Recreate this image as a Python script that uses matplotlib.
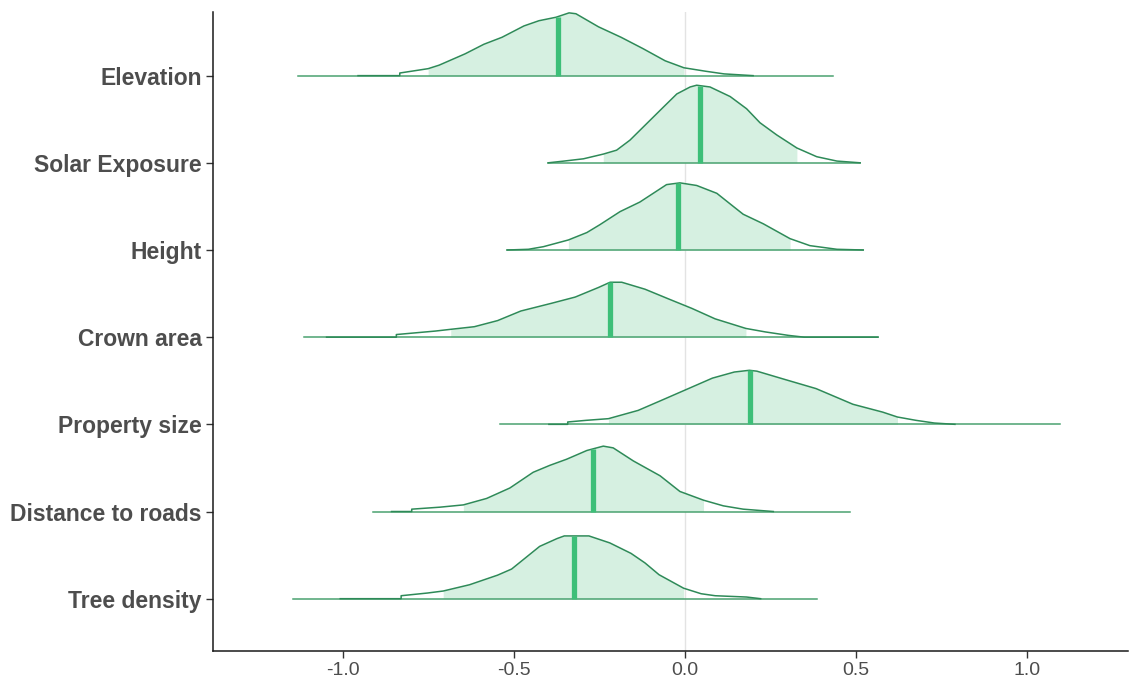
import numpy as np
import matplotlib.pyplot as plt

plt.rcParams['font.family'] = ['Liberation Sans', 'DejaVu Sans']

# назви параметрів знизу вгору
labels = ["Tree density", "Distance to roads", "Property size", "Crown area",
          "Height", "Solar Exposure", "Elevation"]

# повний діапазон тонкої лінії
line_lo = [-1.146, -0.911, -0.540, -1.114, -0.520, -0.400, -1.132]
line_hi = [0.386, 0.482, 1.096, 0.564, 0.521, 0.512, 0.433]

# межі заливки (внутрішній інтервал)
fill_lo = [-0.707, -0.648, -0.224, -0.685, -0.341, -0.239, -0.751]
fill_hi = [-0.004, 0.054, 0.621, 0.178, 0.307, 0.327, -0.003]

medians = [-0.325, -0.268, 0.191, -0.219, -0.021, 0.044, -0.371]

# криві щільності (x, висота у частках рядка)
tree_x = [-1.008, -0.830, -0.830, -0.753, -0.707, -0.630, -0.548, -0.507, -0.466, -0.425,
          -0.374, -0.353, -0.281, -0.220, -0.158, -0.117, -0.076, -0.004, 0.047, 0.088,
          0.180, 0.221]
tree_h = [0.0, 0.0, 0.034, 0.065, 0.088, 0.16, 0.27, 0.34, 0.47, 0.60,
          0.69, 0.72, 0.72, 0.64, 0.52, 0.41, 0.275, 0.12, 0.057, 0.034,
          0.019, 0.0]

dist_x = [-0.858, -0.799, -0.799, -0.716, -0.648, -0.580, -0.512, -0.444, -0.395, -0.346,
          -0.287, -0.239, -0.210, -0.151, -0.073, -0.015, 0.054, 0.112, 0.170, 0.258]
dist_h = [0.0, 0.0, 0.027, 0.05, 0.076, 0.15, 0.27, 0.45, 0.53, 0.60,
          0.70, 0.75, 0.73, 0.58, 0.41, 0.23, 0.13, 0.065, 0.027, 0.0]

prop_x = [-0.398, -0.343, -0.343, -0.289, -0.224, -0.137, -0.072, 0.004, 0.080, 0.144,
          0.188, 0.210, 0.296, 0.383, 0.491, 0.578, 0.621, 0.675, 0.729, 0.789]
prop_h = [0.0, 0.0, 0.027, 0.046, 0.065, 0.16, 0.27, 0.40, 0.53, 0.60,
          0.62, 0.61, 0.51, 0.41, 0.23, 0.14, 0.084, 0.046, 0.015, 0.0]

crown_x = [-1.048, -0.844, -0.844, -0.730, -0.685, -0.616, -0.548, -0.480, -0.389, -0.321,
           -0.253, -0.219, -0.185, -0.117, -0.049, 0.020, 0.088, 0.178, 0.235, 0.303,
           0.348, 0.564]
crown_h = [0.0, 0.0, 0.03, 0.07, 0.09, 0.12, 0.19, 0.30, 0.39, 0.46,
           0.57, 0.63, 0.63, 0.55, 0.44, 0.33, 0.21, 0.10, 0.06, 0.02,
           0.0, 0.0]

height_x = [-0.520, -0.458, -0.414, -0.341, -0.287, -0.249, -0.190, -0.132, -0.093, -0.054,
            -0.015, 0.034, 0.093, 0.141, 0.170, 0.229, 0.307, 0.365, 0.444, 0.521]
height_h = [0.0, 0.008, 0.038, 0.115, 0.20, 0.29, 0.44, 0.55, 0.65, 0.75,
            0.77, 0.74, 0.65, 0.50, 0.41, 0.30, 0.13, 0.05, 0.008, 0.0]

solar_x = [-0.400, -0.356, -0.297, -0.239, -0.200, -0.161, -0.112, -0.063, -0.024, 0.015,
           0.034, 0.073, 0.132, 0.180, 0.219, 0.268, 0.327, 0.385, 0.444, 0.512]
solar_h = [0.0, 0.019, 0.046, 0.10, 0.145, 0.26, 0.45, 0.64, 0.79, 0.87,
           0.89, 0.87, 0.76, 0.62, 0.46, 0.32, 0.17, 0.07, 0.02, 0.0]

elev_x = [-0.956, -0.834, -0.834, -0.751, -0.719, -0.643, -0.588, -0.535, -0.471, -0.427,
          -0.377, -0.339, -0.319, -0.253, -0.187, -0.123, -0.058, -0.003, 0.061, 0.114,
          0.199]
elev_h = [0.0, 0.0, 0.03, 0.08, 0.12, 0.25, 0.36, 0.44, 0.57, 0.63,
          0.67, 0.72, 0.71, 0.56, 0.44, 0.31, 0.17, 0.09, 0.05, 0.02,
          0.0]

curves_x = [tree_x, dist_x, prop_x, crown_x, height_x, solar_x, elev_x]
curves_h = [tree_h, dist_h, prop_h, crown_h, height_h, solar_h, elev_h]

x_ticks = [-1.0, -0.5, 0.0, 0.5, 1.0]

FILL = '#d6f0e1'
OUTLINE = '#2e8a58'
BASE = '#4aa270'
MEDIAN = '#3dbf78'
TEXT = '#4d4d4d'


def draw_row(ax, i):
    y0 = i + 1
    xs = np.array(curves_x[i])
    hs = np.array(curves_h[i])

    ax.plot([line_lo[i], line_hi[i]], [y0, y0], color=BASE, lw=1.1, zorder=2)

    mask = (xs >= fill_lo[i]) & (xs <= fill_hi[i])
    ax.fill_between(xs[mask], y0, y0 + hs[mask], color=FILL, lw=0, zorder=1)

    ax.plot(xs, y0 + hs, color=OUTLINE, lw=1.1, zorder=3)

    mh = np.interp(medians[i], xs, hs)
    ax.plot([medians[i], medians[i]], [y0, y0 + mh], color=MEDIAN, lw=3.8,
            solid_capstyle='butt', zorder=4)


def main() -> None:
    fig = plt.figure(figsize=(11.3, 6.83), dpi=100)
    ax = fig.add_axes([213 / 1130, 1 - 651 / 683, 915 / 1130, (651 - 12) / 683])

    ax.axvline(0, color='#e3e3e3', lw=1.0, zorder=0)

    for i in range(len(labels)):
        draw_row(ax, i)

    ax.set_xlim(-1.38, 1.295)
    ax.set_ylim(0.40, 7.73)

    ax.set_yticks(range(1, len(labels) + 1))
    ax.set_yticklabels(labels, fontsize=16.5, fontweight='bold', color=TEXT)
    ax.set_xticks(x_ticks)
    ax.set_xticklabels([f"{t:.1f}" for t in x_ticks], fontsize=14, color=TEXT)

    for side in ['top', 'right']:
        ax.spines[side].set_visible(False)
    for side in ['left', 'bottom']:
        ax.spines[side].set_color('#1a1a1a')
        ax.spines[side].set_linewidth(1.1)
    ax.tick_params(axis='both', length=5, width=1.0, color='#333333', pad=3)

    fig.savefig("out.png", dpi=100)


if __name__ == "__main__":
    main()
